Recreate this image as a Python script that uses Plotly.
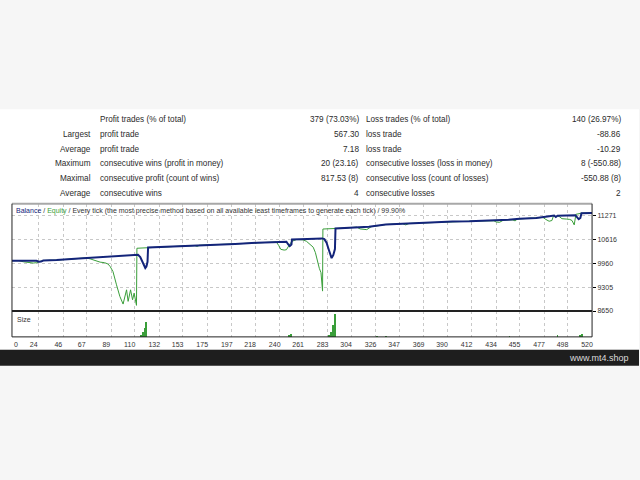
import plotly.graph_objects as go

# ---------------- data ----------------
x_ticks = [0, 24, 46, 67, 89, 110, 132, 153, 175, 197, 218, 240, 261, 283, 304,
           326, 347, 369, 390, 412, 434, 455, 477, 498, 520]
y_ticks = [8650, 9305, 9960, 10616, 11271]

balance_t = [0, 10, 16, 22, 24, 26, 28, 40, 60, 80, 100, 113, 115, 117, 118.5, 119.5,
             120.5, 121.5, 122, 140, 160, 180, 200, 220, 240, 246, 247.5, 249, 250.5, 251,
             265, 278, 280, 282, 284, 285.5, 286.5, 288, 289.5, 290, 300, 320, 335, 350,
             365, 380, 395, 410, 425, 437, 445, 455, 470, 480, 486, 487.5, 489, 505,
             506.5, 508, 509.5, 510.5, 520]
balance_v = [10030, 10035, 10030, 10025, 10000, 10005, 10035, 10045, 10090, 10130, 10165,
             10190, 10130, 9990, 9860, 9830, 9870, 10000, 10390, 10410, 10440, 10465, 10490,
             10520, 10545, 10550, 10480, 10430, 10470, 10610, 10625, 10640, 10620, 10520,
             10330, 10150, 10100, 10180, 10350, 10910, 10925, 10960, 11020, 11045, 11060,
             11080, 11105, 11110, 11120, 11125, 11150, 11175, 11200, 11240, 11265, 11225,
             11262, 11275, 11220, 11165, 11200, 11330, 11335]

equity_t = [0, 6, 10, 15, 19, 22, 24, 28, 40, 61, 66, 70, 75, 79, 83, 86, 88, 90.5,
            93.7, 96.7, 99.6, 102.7, 104.1, 106.3, 108.1, 109.5, 111.6, 112, 122, 140,
            164, 166, 168, 200, 237, 239, 241, 244, 246, 249, 251, 255, 259, 261, 264,
            267, 270, 272, 273.5, 275.5, 277, 278.4, 278.7, 290, 300, 309, 312, 318, 322,
            335, 350, 353, 356, 365, 380, 395, 410, 425, 432, 434, 437, 440, 445, 449, 451,
            453, 455, 470, 476, 478.5, 481.5, 484, 485.5, 487.5, 489, 491, 493, 497, 500,
            502, 504, 505.5, 510.5, 520]
equity_v = [10030, 10032, 10000, 9970, 9965, 9975, 10000, 10035, 10045, 10095, 10105,
            10080, 10030, 9990, 9975, 9940, 9870, 9734, 9368, 9051, 8841, 9232, 8915, 9232,
            8958, 9141, 8806, 10370, 10385, 10410, 10445, 10420, 10452, 10490, 10542, 10450,
            10340, 10320, 10330, 10480, 10560, 10610, 10615, 10600, 10560, 10480, 10400,
            10250, 10050, 9820, 9700, 9196, 10897, 10905, 10925, 10950, 10900, 10880, 10960,
            11020, 11045, 11010, 11050, 11060, 11080, 11105, 11110, 11120, 11122, 11090,
            11080, 11130, 11150, 11145, 11120, 11170, 11175, 11200, 11215, 11160, 11110,
            11130, 11265, 11225, 11262, 11230, 11180, 11170, 11160, 11130, 11010, 11300,
            11330, 11335]

size_t = [116, 117.5, 119, 120.5, 248, 250, 284, 286, 288, 289.5, 327, 335, 446, 489, 509, 511]
size_lots = [0.08, 0.19, 0.35, 0.58, 0.05, 0.12, 0.07, 0.2, 0.45, 0.88, 0.03, 0.03,
             0.03, 0.04, 0.05, 0.12]

row_labels = ["", "Largest", "Average", "Maximum", "Maximal", "Average"]
profit_desc = ["Profit trades (% of total)", "profit trade", "profit trade",
               "consecutive wins (profit in money)", "consecutive profit (count of wins)",
               "consecutive wins"]
profit_vals = ["379 (73.03%)", "567.30", "7.18", "20 (23.16)", "817.53 (8)", "4"]
loss_desc = ["Loss trades (% of total)", "loss trade", "loss trade",
             "consecutive losses (loss in money)", "consecutive loss (count of losses)",
             "consecutive losses"]
loss_vals = ["140 (26.97%)", "-88.86", "-10.29", "8 (-550.88)", "-550.88 (8)", "2"]

# ---------------- styling ----------------
W, H = 640, 480
BLUE = "#13247a"
GREEN = "#3a9e3a"
GRID = "#c8c8c8"
TXT = "#2b2b2b"
FONT = "Liberation Sans, Arial, sans-serif"

def px(x):
    return x / W

def py(y):
    return 1 - y / H

L, R = 12, 593
MAIN_TOP, MAIN_BOT, SIZE_BOT = 205, 313, 339

fig = go.Figure()
fig.add_trace(go.Scatter(x=equity_t, y=equity_v, mode="lines",
                         line=dict(color=GREEN, width=1), xaxis="x", yaxis="y",
                         hoverinfo="skip"))
fig.add_trace(go.Scatter(x=balance_t, y=balance_v, mode="lines",
                         line=dict(color=BLUE, width=2), xaxis="x", yaxis="y",
                         hoverinfo="skip"))
fig.add_trace(go.Bar(x=size_t, y=size_lots, width=0.8, xaxis="x2", yaxis="y2",
                     marker=dict(color=GREEN, line=dict(width=0)), hoverinfo="skip"))

axis_common = dict(showgrid=True, gridcolor=GRID, griddash="3px,3px", gridwidth=1,
                   zeroline=False, showline=False)

fig.update_layout(
    width=W, height=H,
    margin=dict(l=0, r=0, t=0, b=0),
    paper_bgcolor="#f6f6f6",
    plot_bgcolor="white",
    showlegend=False,
    bargap=0,
    font=dict(family=FONT, color=TXT),
    xaxis=dict(domain=[px(L), px(R)], range=[0, 520], anchor="y", tickvals=x_ticks,
               showticklabels=False, ticks="", **axis_common),
    yaxis=dict(domain=[py(MAIN_BOT), py(MAIN_TOP)], range=[8650, 11590], anchor="x",
               side="right", tickvals=y_ticks, tickformat="d", ticks="outside", ticklen=3,
               tickcolor="#000", tickfont=dict(size=7, color="#333"), **axis_common),
    xaxis2=dict(domain=[px(L), px(R)], range=[0, 520], anchor="y2", matches="x",
                tickvals=x_ticks[1:], ticks="", ticklabelshift=-5, ticklabelstandoff=2,
                tickfont=dict(size=7, color="#333"), **axis_common),
    yaxis2=dict(domain=[py(SIZE_BOT), py(MAIN_BOT)], range=[0, 1], anchor="x2",
                showticklabels=False, showgrid=False, zeroline=False, showline=False),
)

shapes = [
    dict(type="rect", xref="paper", yref="paper", x0=0, x1=1, y0=py(352), y1=py(110),
         fillcolor="white", line=dict(width=0), layer="below"),
    dict(type="rect", xref="paper", yref="paper", x0=0, x1=1, y0=py(368), y1=py(352),
         fillcolor="#1e1e1e", line=dict(width=0), layer="above"),
    dict(type="line", xref="paper", yref="paper", x0=px(L), x1=px(R), y0=py(MAIN_TOP),
         y1=py(MAIN_TOP), line=dict(color="#a8a8a8", width=2)),
    dict(type="line", xref="paper", yref="paper", x0=px(L), x1=px(L), y0=py(SIZE_BOT),
         y1=py(MAIN_TOP), line=dict(color="#222", width=1)),
    dict(type="line", xref="paper", yref="paper", x0=px(R), x1=px(R), y0=py(SIZE_BOT),
         y1=py(MAIN_TOP), line=dict(color="#222", width=1)),
    dict(type="line", xref="paper", yref="paper", x0=px(L), x1=px(R), y0=py(MAIN_BOT),
         y1=py(MAIN_BOT), line=dict(color="#222", width=2)),
    dict(type="line", xref="paper", yref="paper", x0=px(L), x1=px(R), y0=py(SIZE_BOT),
         y1=py(SIZE_BOT), line=dict(color="#222", width=1)),
]
fig.update_layout(shapes=shapes)

ann = []
TF = dict(family=FONT, size=8.2, color=TXT)
for i in range(len(row_labels)):
    yy = py(120 + 15 * i)
    if row_labels[i]:
        ann.append(dict(x=px(93), y=yy, text=row_labels[i], xanchor="right"))
    ann.append(dict(x=px(98), y=yy, text=profit_desc[i], xanchor="left"))
    ann.append(dict(x=px(362), y=yy, text=profit_vals[i], xanchor="right"))
    ann.append(dict(x=px(365), y=yy, text=loss_desc[i], xanchor="left"))
    ann.append(dict(x=px(624), y=yy, text=loss_vals[i], xanchor="right"))
for a in ann:
    a.update(xref="paper", yref="paper", yanchor="middle", showarrow=False, font=TF)

title = (f"<span style='color:{BLUE}'>Balance</span> / "
         f"<span style='color:{GREEN}'>Equity</span> / Every tick (the most precise "
         "method based on all available least timeframes to generate each tick) / 99.90%")
ann.append(dict(x=px(14), y=py(212), xref="paper", yref="paper", text=title,
                xanchor="left", yanchor="middle", showarrow=False,
                font=dict(family=FONT, size=7, color="#333")))
ann.append(dict(x=px(15), y=py(322), xref="paper", yref="paper", text="Size",
                xanchor="left", yanchor="middle", showarrow=False,
                font=dict(family=FONT, size=7, color="#333")))
ann.append(dict(x=0, y=py(SIZE_BOT), xref="x2", yref="paper", text=str(x_ticks[0]),
                xanchor="left", yanchor="top", yshift=-2, showarrow=False,
                font=dict(family=FONT, size=7, color="#333")))
ann.append(dict(x=px(632), y=py(360), xref="paper", yref="paper", text="www.mt4.shop",
                xanchor="right", yanchor="middle", showarrow=False,
                font=dict(family=FONT, size=9, color="#dcdcdc")))
fig.update_layout(annotations=ann)

fig.write_html("out.html", config={"displayModeBar": False},
               post_script="document.body.style.margin='0';document.body.style.padding='0';")
